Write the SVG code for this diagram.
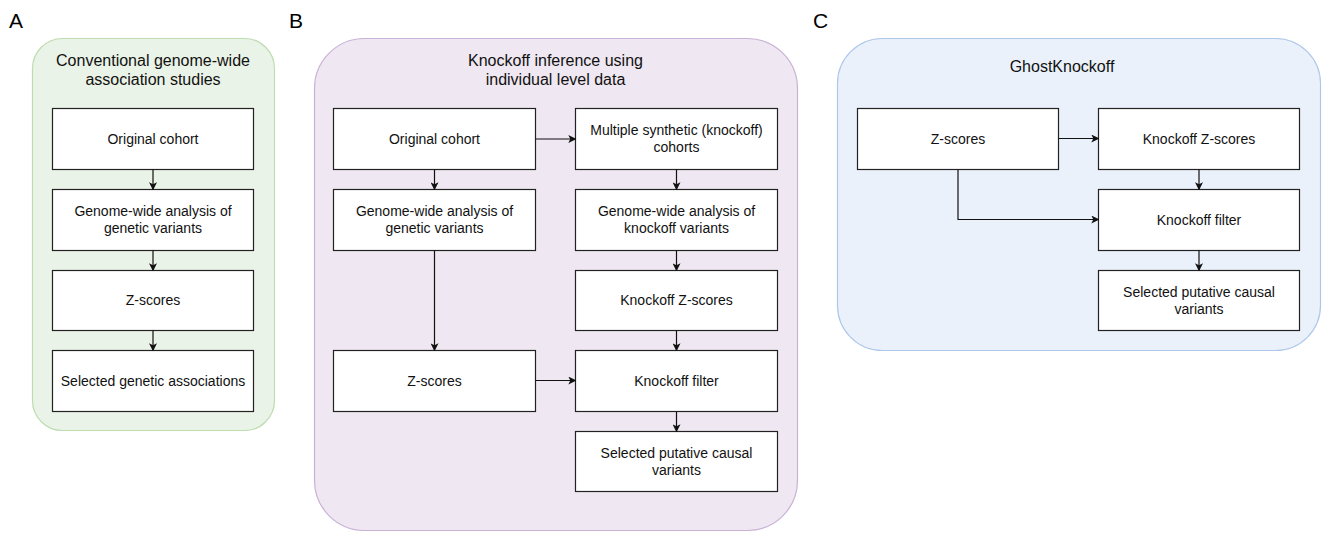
<svg xmlns="http://www.w3.org/2000/svg" width="1322" height="533" viewBox="0 0 1322 533">
<style>
.lbl{font-family:"Liberation Sans",Arial,sans-serif;font-size:21px;fill:#000}
.title{font-family:"Liberation Sans",Arial,sans-serif;font-size:16px;fill:#111;text-anchor:middle}
.t{font-family:"Liberation Sans",Arial,sans-serif;font-size:14px;fill:#111;text-anchor:middle}
.box{fill:#fff;stroke:#222;stroke-width:1.2}
.edge{fill:none;stroke:#111;stroke-width:1.2;marker-end:url(#arr)}
</style>
<defs>
<marker id="arr" viewBox="0 0 10 10" refX="9" refY="5" markerWidth="8" markerHeight="8" markerUnits="userSpaceOnUse" orient="auto">
<path d="M0,0 L10,5 L0,10 L2.5,5 Z" fill="#111"/>
</marker>
</defs>
<rect width="1322" height="533" fill="#fff"/>
<text class="lbl" x="9" y="28">A</text>
<text class="lbl" x="289" y="28">B</text>
<text class="lbl" x="813" y="28">C</text>

<g id="panelA">
<rect x="32.5" y="38.5" width="242" height="392" rx="30" fill="#eaf3e7" stroke="#bddcb0" stroke-width="1.2"/>
<text class="title" x="153" y="66">Conventional genome-wide</text>
<text class="title" x="153" y="85">association studies</text>
</g>
<g id="panelB">
<rect x="314.5" y="38.5" width="483" height="492" rx="50" fill="#efe7f1" stroke="#c9b2d6" stroke-width="1.2"/>
<text class="title" x="555.5" y="66">Knockoff inference using</text>
<text class="title" x="555.5" y="85">individual level data</text>
</g>
<g id="panelC">
<rect x="837.5" y="38.5" width="483" height="312" rx="45" fill="#eaf1fb" stroke="#afc8ea" stroke-width="1.2"/>
<text class="title" x="1062" y="72">GhostKnockoff</text>
</g>

<g id="a1"><rect class="box" x="52.5" y="108.5" width="201" height="61"/><text class="t" x="153" y="144">Original cohort</text></g>
<g id="a2"><rect class="box" x="52.5" y="189.5" width="201" height="61"/><text class="t" x="153" y="216">Genome-wide analysis of</text><text class="t" x="153" y="233">genetic variants</text></g>
<g id="a3"><rect class="box" x="52.5" y="270.5" width="201" height="60"/><text class="t" x="153" y="305">Z-scores</text></g>
<g id="a4"><rect class="box" x="52.5" y="350.5" width="201" height="61"/><text class="t" x="153" y="386">Selected genetic associations</text></g>

<g id="b1"><rect class="box" x="333.5" y="108.5" width="202" height="61"/><text class="t" x="434.5" y="144">Original cohort</text></g>
<g id="b2"><rect class="box" x="333.5" y="189.5" width="202" height="61"/><text class="t" x="434.5" y="216">Genome-wide analysis of</text><text class="t" x="434.5" y="233">genetic variants</text></g>
<g id="b3"><rect class="box" x="333.5" y="350.5" width="202" height="61"/><text class="t" x="434.5" y="386">Z-scores</text></g>
<g id="b4"><rect class="box" x="575.5" y="108.5" width="202" height="61"/><text class="t" x="676.5" y="135">Multiple synthetic (knockoff)</text><text class="t" x="676.5" y="152">cohorts</text></g>
<g id="b5"><rect class="box" x="575.5" y="189.5" width="202" height="61"/><text class="t" x="676.5" y="216">Genome-wide analysis of</text><text class="t" x="676.5" y="233">knockoff variants</text></g>
<g id="b6"><rect class="box" x="575.5" y="270.5" width="202" height="60"/><text class="t" x="676.5" y="305">Knockoff Z-scores</text></g>
<g id="b7"><rect class="box" x="575.5" y="350.5" width="202" height="61"/><text class="t" x="676.5" y="386">Knockoff filter</text></g>
<g id="b8"><rect class="box" x="575.5" y="431.5" width="202" height="60"/><text class="t" x="676.5" y="458">Selected putative causal</text><text class="t" x="676.5" y="475">variants</text></g>

<g id="c1"><rect class="box" x="857.5" y="108.5" width="201" height="61"/><text class="t" x="958" y="144">Z-scores</text></g>
<g id="c2"><rect class="box" x="1098.5" y="108.5" width="201" height="61"/><text class="t" x="1199" y="144">Knockoff Z-scores</text></g>
<g id="c3"><rect class="box" x="1098.5" y="189.5" width="201" height="61"/><text class="t" x="1199" y="225">Knockoff filter</text></g>
<g id="c4"><rect class="box" x="1098.5" y="270.5" width="201" height="60"/><text class="t" x="1199" y="297">Selected putative causal</text><text class="t" x="1199" y="314">variants</text></g>

<g id="connectors">
<path class="edge" d="M153,169.5 V189.5"/>
<path class="edge" d="M153,250.5 V270.5"/>
<path class="edge" d="M153,330.5 V350.5"/>
<path class="edge" d="M434.5,169.5 V189.5"/>
<path class="edge" d="M434.5,250.5 V350.5"/>
<path class="edge" d="M535.5,139 H575.5"/>
<path class="edge" d="M535.5,380.5 H575.5"/>
<path class="edge" d="M676.5,169.5 V189.5"/>
<path class="edge" d="M676.5,250.5 V270.5"/>
<path class="edge" d="M676.5,330.5 V350.5"/>
<path class="edge" d="M676.5,411.5 V431.5"/>
<path class="edge" d="M1058.5,138.5 H1098.5"/>
<path class="edge" d="M958,169.5 V219.5 H1098.5"/>
<path class="edge" d="M1199,169.5 V189.5"/>
<path class="edge" d="M1199,250.5 V270.5"/>
</g>
</svg>
